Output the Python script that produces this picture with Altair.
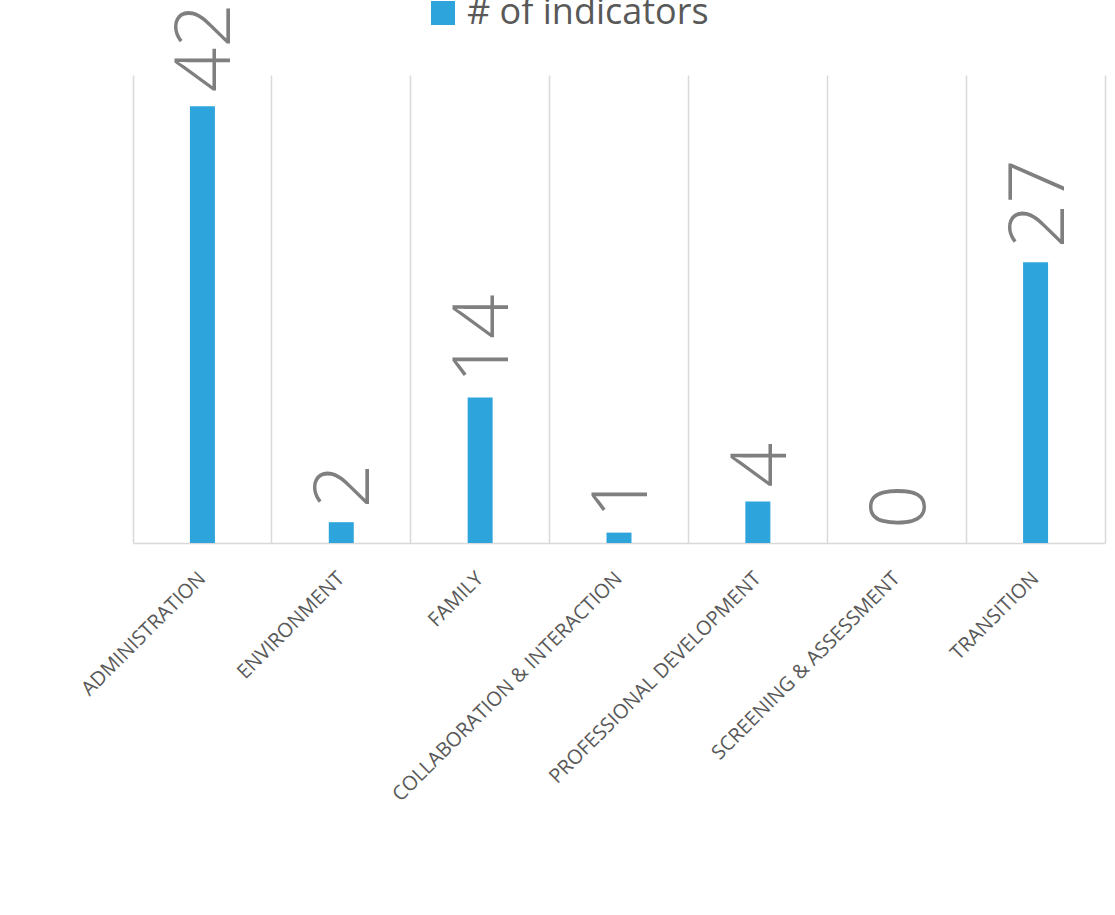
import altair as alt
import pandas as pd

categories = ["ADMINISTRATION", "ENVIRONMENT", "FAMILY", "COLLABORATION & INTERACTION",
              "PROFESSIONAL DEVELOPMENT", "SCREENING & ASSESSMENT", "TRANSITION"]
values = [42, 2, 14, 1, 4, 0, 27]
series_name = "# of indicators"

df = pd.DataFrame({"cat": categories, "val": values, "series": [series_name] * len(categories)})

FONT = "Open Sans"
GRID = "#D9D9D9"
xscale = alt.Scale(domain=categories, paddingInner=0, paddingOuter=0)
yscale = alt.Scale(domain=[0, 45], nice=False)

base = alt.Chart(df)

# invisible layer that carries the category-boundary gridlines and the right edge line
grid = base.mark_bar(opacity=0).encode(
    x=alt.X("cat:N", scale=xscale, sort=categories, title=None,
            axis=alt.Axis(orient="bottom", grid=True, bandPosition=0, gridColor=GRID,
                          gridWidth=1.5, labels=False, ticks=False, domain=False)),
    y=alt.Y("val:Q", scale=yscale, title=None,
            axis=alt.Axis(orient="right", grid=False, labels=False, ticks=False,
                          domain=True, domainColor=GRID, domainWidth=1.5)),
)

bars = base.mark_bar(size=25).encode(
    x=alt.X("cat:N", scale=xscale, sort=categories, title=None,
            axis=alt.Axis(orient="bottom", labelAngle=-45, labelAlign="right",
                          labelBaseline="middle", labelFont=FONT, labelFontSize=20,
                          labelColor="#595959", labelPadding=32, ticks=False, grid=False,
                          domainColor=GRID, domainWidth=1.5, labelLimit=0)),
    y=alt.Y("val:Q", scale=yscale, axis=None),
    color=alt.Color("series:N", scale=alt.Scale(range=["#2EA4DD"]), title=None,
                    legend=alt.Legend(orient="none", legendX=292, legendY=-80,
                                      symbolType="square", symbolSize=576,
                                      symbolStrokeWidth=0, labelFont=FONT,
                                      labelFontSize=36, labelColor="#595959",
                                      labelOffset=6, padding=0, labelLimit=0)),
)

labels = base.mark_text(angle=270, align="left", baseline="middle", dx=14, dy=5,
                        font=FONT, fontSize=78, fontWeight=300, color="#7F7F7F").encode(
    x=alt.X("cat:N", scale=xscale, sort=categories, axis=None),
    y=alt.Y("val:Q", scale=yscale, axis=None),
    text=alt.Text("val:Q"),
)

chart = alt.layer(grid, bars, labels).resolve_axis(x="independent", y="independent").properties(
    width=972, height=468,
    autosize=alt.AutoSizeParams(type="none"),
    padding={"left": 133, "top": 75, "right": 10, "bottom": 372},
).configure_view(stroke=None)

chart.save("out.html", embed_options={"renderer": "svg", "actions": False})
